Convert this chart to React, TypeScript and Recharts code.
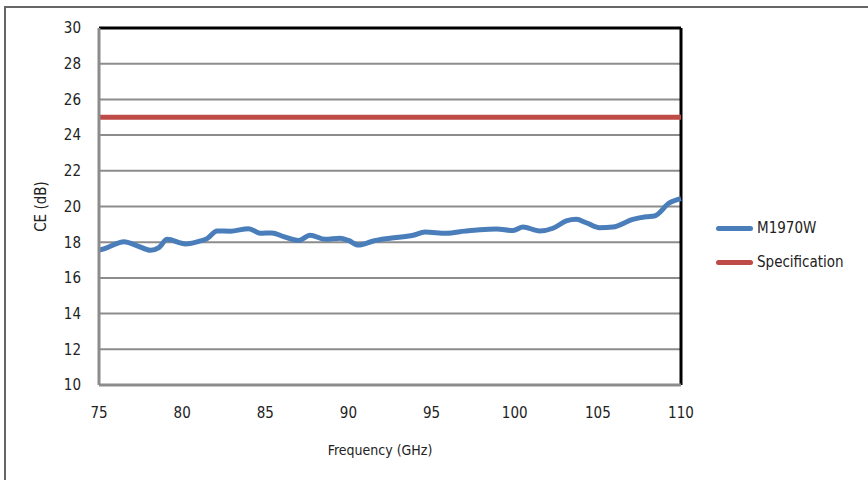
import { CartesianGrid, Line, LineChart, ReferenceLine, XAxis, YAxis } from "recharts";

// M1970W conversion efficiency
const frequencies = [
  75, 75.5, 76.5, 77.3, 78.1, 78.6, 79.1, 80.2, 81, 81.5, 82.1, 82.9, 84, 84.7, 85.4, 86.1, 87,
  87.7, 88.6, 89.5, 90, 90.6, 91.5, 92.5, 93.9, 94.6, 95.9, 97, 97.9, 98.9, 99.9, 100.5, 101.5,
  102.3, 103.1, 103.7, 104.3, 105.1, 105.9, 107.1, 107.9, 108.4, 109.3, 110,
];
const m1970w = [
  17.55, 17.7, 18.03, 17.8, 17.55, 17.7, 18.16, 17.9, 18.05, 18.2, 18.63, 18.62, 18.76, 18.5,
  18.52, 18.31, 18.1, 18.39, 18.16, 18.22, 18.1, 17.84, 18.07, 18.22, 18.39, 18.57, 18.5, 18.62,
  18.7, 18.74, 18.65, 18.85, 18.63, 18.78, 19.19, 19.28, 19.09, 18.81, 18.85, 19.28, 19.43,
  19.47, 20.2, 20.44,
];
const specFrequencies = [75, 110];
const specValues = [25, 25];

const xTicks = [75, 80, 85, 90, 95, 100, 105, 110];
const yTicks = [10, 12, 14, 16, 18, 20, 22, 24, 26, 28, 30];

const measured = frequencies.map((f, i) => ({ freq: f, value: m1970w[i] }));
const spec = specFrequencies.map((f, i) => ({ freq: f, value: specValues[i] }));

const FONT = "'DejaVu Sans Condensed', 'Liberation Sans Narrow', sans-serif";
const BLUE = "#4a7ebb";
const RED = "#be4b48";
const GRID = "#8c8c8c";

const legendItems = [
  { name: "M1970W", color: BLUE },
  { name: "Specification", color: RED },
];

export default function App() {
  return (
    <div style={{ position: "absolute", left: 0, top: 0, width: 868, height: 480, background: "#fff", fontFamily: FONT }}>
      <div
        style={{
          position: "absolute",
          left: 4,
          top: 6,
          right: 0,
          bottom: -10,
          borderLeft: "2px solid #666",
          borderTop: "2px solid #666",
        }}
      />
      <LineChart
        width={868}
        height={480}
        data={measured}
        margin={{ top: 28, right: 187, bottom: 65, left: 29 }}
        style={{ position: "absolute", left: 0, top: 0 }}
      >
        <CartesianGrid vertical={false} stroke={GRID} strokeWidth={2} />
        <XAxis
          dataKey="freq"
          type="number"
          domain={[75, 110]}
          ticks={xTicks}
          height={30}
          tickSize={0}
          tickMargin={22}
          axisLine={{ stroke: GRID, strokeWidth: 3 }}
          tickLine={false}
          tick={{ fontSize: 15, fill: "#222", fontFamily: FONT }}
          label={({ viewBox }: any) => (
            <text
              x={viewBox.x + viewBox.width / 2 - 10}
              y={455}
              textAnchor="middle"
              fontSize={14}
              fill="#222"
              fontFamily={FONT}
            >
              Frequency (GHz)
            </text>
          )}
        />
        <YAxis
          type="number"
          domain={[10, 30]}
          ticks={yTicks}
          width={70}
          tickSize={0}
          tickMargin={18}
          axisLine={{ stroke: GRID, strokeWidth: 3 }}
          tickLine={false}
          tick={{ fontSize: 15, fill: "#222", fontFamily: FONT }}
          label={({ viewBox }: any) => (
            <text
              x={41}
              y={viewBox.y + viewBox.height / 2}
              transform={`rotate(-90 41 ${viewBox.y + viewBox.height / 2})`}
              textAnchor="middle"
              dominantBaseline="central"
              fontSize={15}
              fill="#222"
              fontFamily={FONT}
            >
              CE (dB)
            </text>
          )}
        />
        <ReferenceLine y={30} stroke="#000" strokeWidth={3} />
        <ReferenceLine x={110} stroke="#000" strokeWidth={3} />
        <Line
          data={spec}
          dataKey="value"
          type="linear"
          stroke={RED}
          strokeWidth={5}
          dot={false}
          isAnimationActive={false}
        />
        <Line
          dataKey="value"
          type="monotone"
          stroke={BLUE}
          strokeWidth={5}
          dot={false}
          isAnimationActive={false}
        />
      </LineChart>
      {legendItems.map((item, i) => (
        <div
          key={item.name}
          style={{
            position: "absolute",
            left: 716,
            top: 219 + i * 34,
            height: 18,
            display: "flex",
            alignItems: "center",
            fontSize: 15,
            color: "#222",
          }}
        >
          <span
            style={{
              display: "inline-block",
              width: 37,
              height: 5,
              borderRadius: 3,
              background: item.color,
              marginRight: 4,
            }}
          />
          {item.name}
        </div>
      ))}
    </div>
  );
}
